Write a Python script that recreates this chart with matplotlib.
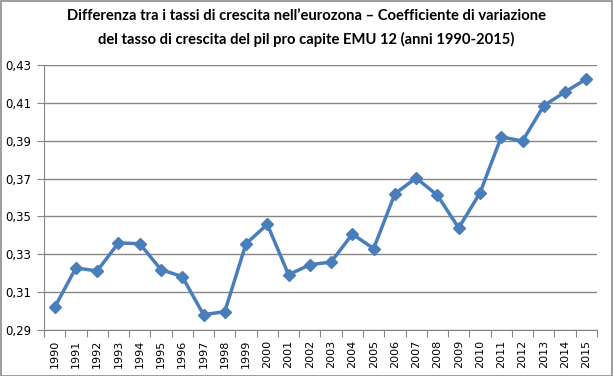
import matplotlib
matplotlib.use("Agg")
import matplotlib.pyplot as plt
from matplotlib.patches import Rectangle
from matplotlib.ticker import FixedLocator, FuncFormatter

# Dati
anni = [str(a) for a in range(1990, 2016)]
valori = [0.302, 0.3228, 0.3212, 0.336, 0.3356, 0.3219, 0.3182, 0.2981, 0.2997,
          0.3356, 0.3458, 0.3192, 0.3245, 0.3259, 0.3407, 0.333, 0.362, 0.3703,
          0.3611, 0.3439, 0.3624, 0.392, 0.3898, 0.4085, 0.4157, 0.4226]
y_ticks = [0.29, 0.31, 0.33, 0.35, 0.37, 0.39, 0.41, 0.43]

titolo = ("Differenza tra i tassi di crescita nell\u2019eurozona \u2013 Coefficiente di variazione\n"
          "del tasso di crescita del pil pro capite EMU 12 (anni 1990-2015)")

fig = plt.figure(figsize=(6.13, 3.76), dpi=100)
ax = fig.add_axes([0.0718, 0.1223, 0.902, 0.705])

x = list(range(len(anni)))
ax.plot(x, valori, color="#4A7EBB", linewidth=2.5, marker="D", markersize=6,
        markerfacecolor="#4A7EBB", markeredgecolor="#4A7EBB", zorder=3)

ax.set_xlim(-0.5, len(anni) - 0.5)
ax.set_ylim(0.29, 0.43)
ax.set_yticks(y_ticks)
ax.yaxis.set_major_formatter(FuncFormatter(lambda v, p: f"{v:.2f}".replace(".", ",")))
ax.grid(axis="y", color="#868686", linewidth=1)
ax.set_axisbelow(True)

# tacche tra le categorie, etichette al centro
ax.xaxis.set_major_locator(FixedLocator([i - 0.5 for i in range(len(anni) + 1)]))
ax.xaxis.set_major_formatter(FuncFormatter(lambda v, p: ""))
ax.xaxis.set_minor_locator(FixedLocator(x))
ax.set_xticklabels(anni, minor=True, rotation=90, fontsize=8)
ax.tick_params(axis="x", which="major", length=5, color="#868686", direction="out")
ax.tick_params(axis="x", which="minor", length=0, pad=7)
ax.tick_params(axis="y", length=5, color="#868686", labelsize=8.5, pad=4)

for s in ["top", "right"]:
    ax.spines[s].set_visible(False)
for s in ["left", "bottom"]:
    ax.spines[s].set_color("#868686")

fig.text(0.5, 0.975, titolo, ha="center", va="top", fontsize=10.6,
         fontweight="bold", family="Lato", linespacing=1.7)

fig.add_artist(Rectangle((0.001, 0.001), 0.997, 0.996, transform=fig.transFigure,
                         fill=False, edgecolor="#8c8c8c", linewidth=1.2))

fig.savefig("out.png", dpi=100)
plt.close()
